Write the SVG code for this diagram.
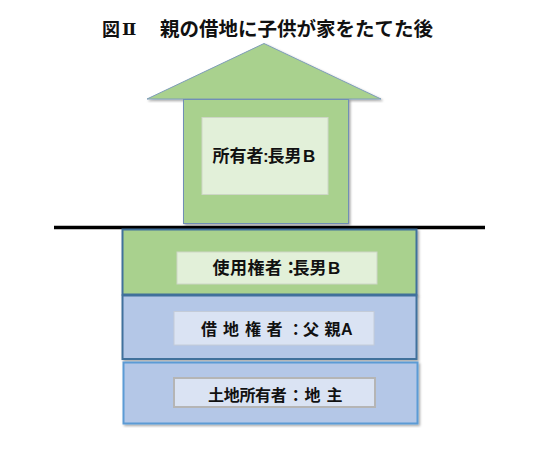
<svg xmlns="http://www.w3.org/2000/svg" width="550" height="453" viewBox="0 0 550 453">
<style>
text{font-family:"Liberation Sans","Noto Sans CJK JP",sans-serif;font-weight:700;fill:#111}
.g{fill:#a9d18e}
.b{fill:#b4c7e7}
.lg{fill:#e2f0d9;stroke:#cdd6c6;stroke-width:1}
.lb{fill:#dae3f3;stroke:#c4ccd8;stroke-width:1}
</style>
<defs><filter id="s" x="-5%" y="-5%" width="112%" height="112%"><feDropShadow dx="1.5" dy="1.5" stdDeviation="1" flood-color="#000" flood-opacity=".35"/></filter></defs>
<rect width="550" height="453" fill="#fff"/>
<g id="title">
<text x="102" y="35.500" font-size="18">図</text>
<text x="122" y="35" font-size="17" style="font-family:'DejaVu Serif','Noto Sans CJK JP',serif">Ⅱ</text>
<text x="160" y="35.500" font-size="19.500">親の借地に子供が家をたてた後</text>
</g>
<g id="house">
<polygon points="147,99 264,43.500 381,99" class="g" stroke="#7f9db9" stroke-width="1" filter="url(#s)"/>
<rect x="183.500" y="99.500" width="165" height="124" class="g" stroke="#6f8fb5" stroke-width="1" filter="url(#s)"/>
<rect x="202" y="117.500" width="126" height="77" class="lg"/>
<text font-size="17" x="212.500 229.500 246.500 263 267.500 284.500 300 303" y="161.500" xml:space="preserve">所有者:長男 B</text>
</g>
<g id="connectors"><line x1="54" y1="227.500" x2="485" y2="227.500" stroke="#000" stroke-width="3.500"/></g>
<g id="use">
<rect x="122.500" y="229.500" width="294" height="65" class="g" stroke="#41719c" stroke-width="2" filter="url(#s)"/>
<rect x="177" y="252" width="200" height="32" class="lg"/>
<text font-size="17" x="212.500 230 247.500 265 282.200 292.500 309.500 326 328" y="273.500" xml:space="preserve">使用権者：長男 B</text>
</g>
<g id="lease">
<rect x="122.500" y="295.500" width="294" height="63.500" class="b" stroke="#41719c" stroke-width="2" filter="url(#s)"/>
<rect x="174" y="311.500" width="200" height="33.500" class="lb"/>
<text font-size="16" x="201 212 223 234 245 256 266.500 280 287.700 303 318 324.500 341" y="335" xml:space="preserve">借 地 権 者 ：父 親A</text>
</g>
<g id="land">
<rect x="123.500" y="362.500" width="294" height="61" class="b" stroke="#5b9bd5" stroke-width="2" filter="url(#s)"/>
<rect x="174" y="378" width="201" height="29" class="lb" style="stroke:#b5b5b5;stroke-width:2"/>
<text font-size="16" x="208 223.700 239.400 255 270.700 287.700 304.500 320 326.500" y="401" xml:space="preserve">土地所有者：地 主</text>
</g>
</svg>
